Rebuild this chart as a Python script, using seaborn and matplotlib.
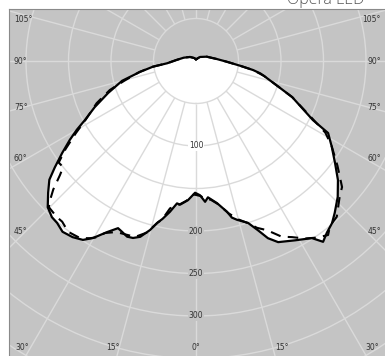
import numpy as np
import matplotlib
matplotlib.use("Agg")
import matplotlib.pyplot as plt
import seaborn as sns
from matplotlib.patches import Rectangle
from matplotlib.lines import Line2D

# ---- data (angle in degrees from nadir, positive to the right; intensity) ----
sol_deg = [-180, -150, -124, -105, -93, -85.5, -82.5, -79, -75, -70, -65.5, -62, -60, -58, -55.5,
           -53, -51, -48.3, -45.4, -42.7, -40.6, -38, -35, -32.3, -30.2, -27.5, -25, -23.4, -21.4,
           -19.6, -17.6, -15.2, -13.3, -12, -9.8, -7.6, -6.3, -3.3, -0.4, 1.7, 3.7, 5.0, 8.4, 11.6,
           12.9, 14.5, 17.8, 20.1, 22.1, 24.4, 28.9, 33.2, 35.1, 37.3, 40.0, 42.4, 46.2, 50.0, 53.7,
           57.7, 61.4, 63.2, 69.4, 72.6, 77.6, 79.1, 81, 83.9, 88.7, 95.5, 111.9, 135, 180]
sol_r = [2, 4, 8.5, 15, 23, 34, 51, 67, 90, 110, 131, 148, 162, 175, 191,
         208, 222, 233, 245, 250, 251, 255, 253, 249, 241, 227, 217, 219, 222,
         221, 217, 206, 195, 190, 180, 169, 170, 164, 155, 158, 166, 161, 169, 181,
         189, 193, 200, 212, 225, 234, 241, 249, 260, 254, 249, 242, 231, 218, 203,
         189, 177, 154, 121, 102, 82, 77, 68, 52, 36, 24.5, 13.6, 6.7, 2]

dash_deg = [-180, -150, -124, -105, -93, -85.5, -82.5, -79, -74.5, -71.4, -67, -62, -59, -56, -53.5,
            -51.4, -50, -48, -46.4, -45.2, -41.7, -39.8, -36.8, -33.2, -30.9, -29.4, -27.9, -25, -21.6,
            -19.1, -16, -13.5, -12.1, -10, -7.1, -4, -1, 2, 4, 6, 9, 12, 15, 18, 20.1, 22.8, 26, 28.6,
            31.5, 34.5, 37.2, 39.1, 42.1, 46.8, 49.2, 53.5, 58, 61, 63.5, 69.4, 72.6, 77.6, 81, 83.9,
            88.7, 95.5, 111.9, 135, 180]
dash_r = [2, 4, 8.5, 15, 23, 34, 51, 68, 88, 107, 127, 147, 165, 185, 201,
          200, 209, 226, 237, 244, 246, 246, 251, 249, 243, 238, 229, 222, 220,
          219, 210, 196, 191, 176, 171, 165, 157, 159, 163, 164, 171, 183, 193, 201, 209, 216, 230, 236,
          245, 252, 257, 250, 247, 232, 227, 207, 188, 174, 154, 121, 102, 82, 68, 52,
          36, 24.5, 13.6, 6.7, 2]

ring_values = [50, 100, 150, 200, 250, 300, 350, 400]
ring_labels = {100: "100", 200: "200", 250: "250", 300: "300"}
spoke_deg = list(range(-180, 180, 15))
title = "Opera LED"

# ---- layout ----
W, H = 385, 356
BG = "#c4c4c4"
GRID = "#dadada"
TXT = "#333333"
cx, cy = 196, 61          # pole position in pixels (from top-left)
RMAX = 420
scale = 0.85              # px per unit
rad_px = RMAX * scale

fig = plt.figure(figsize=(W / 100, H / 100), dpi=100)
fig.patch.set_facecolor("white")
ax = fig.add_axes([(cx - rad_px) / W, (H - cy - rad_px) / H, 2 * rad_px / W, 2 * rad_px / H],
                  projection="polar")
ax.set_theta_zero_location("S")
ax.set_facecolor(BG)
ax.spines["polar"].set_visible(False)

th_s = np.deg2rad(sol_deg)
th_d = np.deg2rad(dash_deg)

ax.fill(th_s, sol_r, color="white", lw=0, zorder=1)

sns.lineplot(x=th_d, y=dash_r, sort=False, estimator=None, ax=ax, color="black",
             lw=1.5, linestyle=(0, (5, 3.5)), zorder=4)
sns.lineplot(x=th_s, y=sol_r, sort=False, estimator=None, ax=ax, color="black",
             lw=1.6, zorder=5)

ax.set_xticks(np.deg2rad(np.arange(0, 360, 15)))
ax.set_xticklabels([])
ax.xaxis.grid(False)
ax.set_yticks(ring_values)
ax.set_yticklabels([])
ax.yaxis.grid(True, color=GRID, lw=1.0)
ax.set_axisbelow(False)
ax.vlines(np.deg2rad(spoke_deg), 50, RMAX, colors=GRID, lw=1.0, zorder=2.5)
ax.set_ylim(0, RMAX)
ax.set_xlabel("")
ax.set_ylabel("")

for rv, lab in ring_labels.items():
    fc = "white" if rv == 100 else BG
    ax.text(0, rv, lab, ha="center", va="center", fontsize=5.5, color=TXT,
            bbox=dict(fc=fc, ec="none", pad=0.5), zorder=3)

# white margins and frame
fig.add_artist(Rectangle((0, 1 - 8.5 / H), 1, 8.5 / H, transform=fig.transFigure,
                         fc="white", ec="none", zorder=10))
fig.add_artist(Rectangle((0, 0), 8.5 / W, 1, transform=fig.transFigure,
                         fc="white", ec="none", zorder=10))
fig.add_artist(Line2D([8.5 / W, 1], [1 - 8.5 / H] * 2, transform=fig.transFigure,
                      color="#8a8a8a", lw=0.8, zorder=11))
fig.add_artist(Line2D([8.5 / W] * 2, [0, 1 - 8.5 / H], transform=fig.transFigure,
                      color="#8a8a8a", lw=0.8, zorder=11))

# angle labels
side = [("105°", 20), ("90°", 61), ("75°", 107), ("60°", 159), ("45°", 231)]
for lab, y in side:
    fig.text(14 / W, 1 - y / H, lab, ha="left", va="center", fontsize=5.5, color=TXT, zorder=12)
    fig.text(381 / W, 1 - y / H, lab, ha="right", va="center", fontsize=5.5, color=TXT, zorder=12)
bottom = [("30°", 22), ("15°", 113), ("0°", 196), ("15°", 282), ("30°", 372)]
for lab, x in bottom:
    fig.text(x / W, 1 - 348 / H, lab, ha="center", va="center", fontsize=5.5, color=TXT, zorder=12)

fig.text(364 / W, 1 - 3.5 / H, title, ha="right", va="baseline", fontsize=11.5,
         family=["Open Sans", "DejaVu Sans"], fontweight="light", color="#555555", zorder=12)

fig.savefig("out.png", dpi=100)
